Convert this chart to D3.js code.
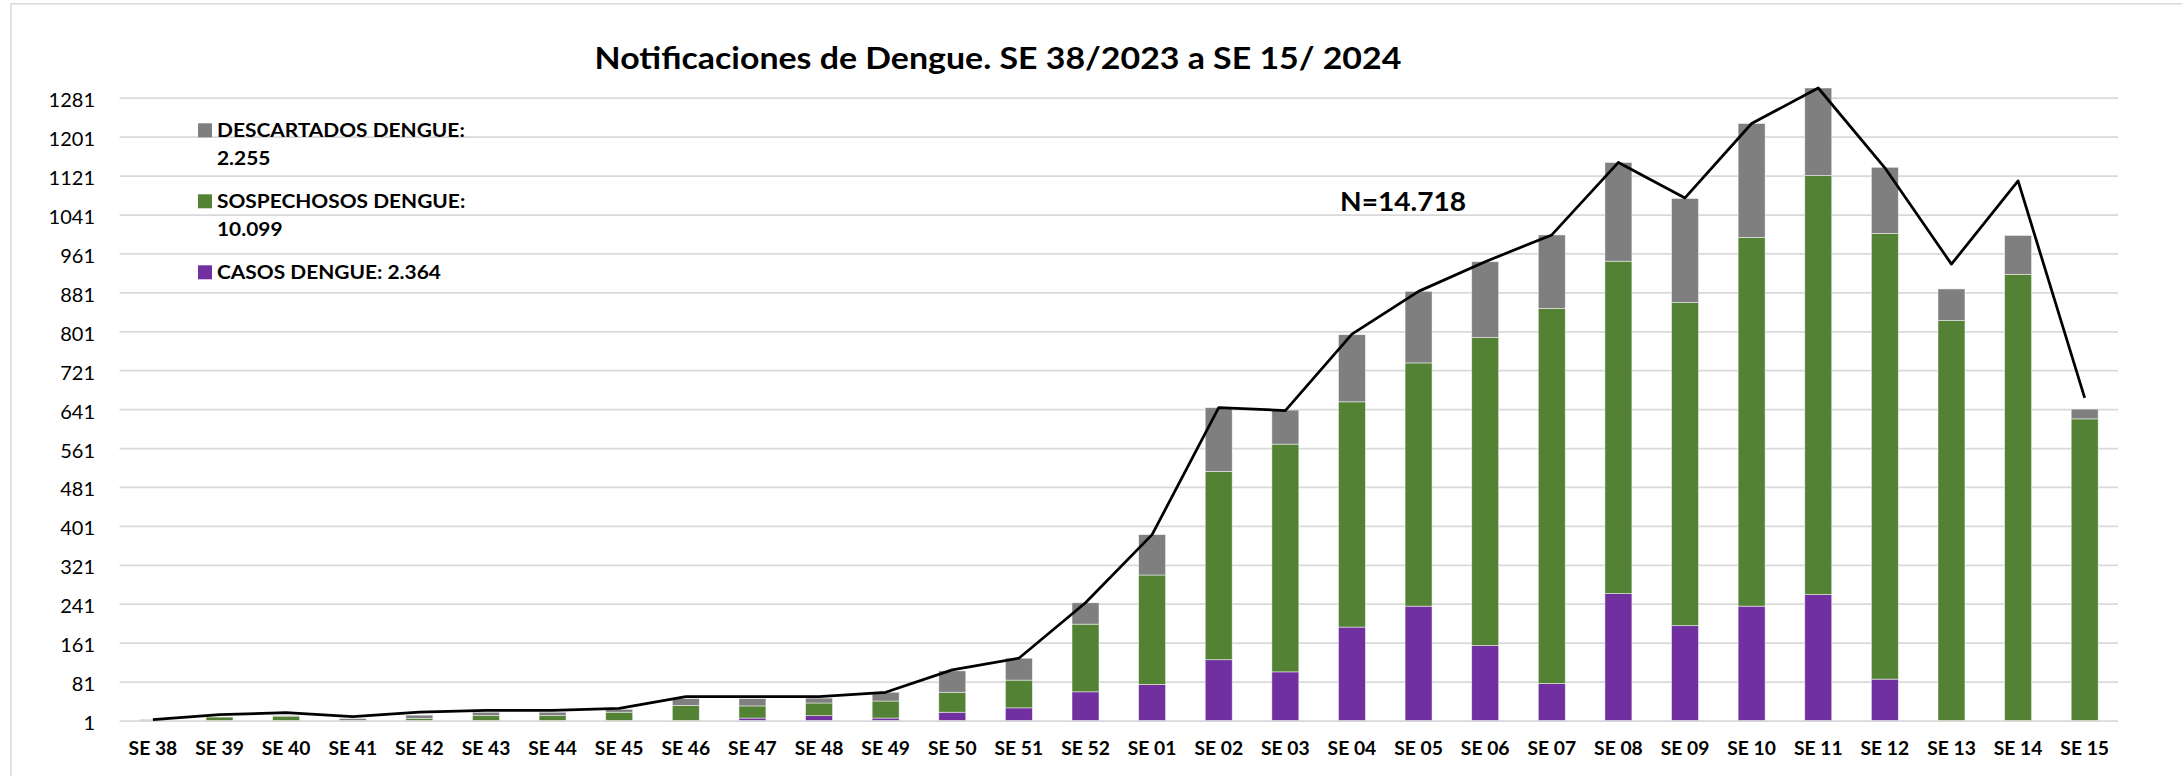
<!DOCTYPE html>
<html>
<head>
<meta charset="utf-8">
<script src="https://cdn.jsdelivr.net/npm/d3@7"></script>
<style>
  body { margin: 0; background: #fff; }
  svg { display: block; font-family: Lato, "Liberation Sans", sans-serif; }
</style>
</head>
<body>
<div id="chart"></div>
<script>
const weeks = ["SE 38","SE 39","SE 40","SE 41","SE 42","SE 43","SE 44","SE 45","SE 46","SE 47",
  "SE 48","SE 49","SE 50","SE 51","SE 52","SE 01","SE 02","SE 03","SE 04","SE 05",
  "SE 06","SE 07","SE 08","SE 09","SE 10","SE 11","SE 12","SE 13","SE 14","SE 15"];
const casos = [0,0,0,0,0,0,0,0,0,6, 11,6,18,27,60,75,126,101,193,236, 155,77,262,196,236,260,86,0,0,0];
const sospechosos = [0,8,10,0,5,11,11,18,32,25, 26,35,41,57,139,225,387,468,463,500, 633,771,683,664,758,861,916,823,918,621];
const descartados = [3,0,1,5,7,7,7,6,14,15, 10,18,44,45,44,83,131,70,138,147, 156,151,203,214,234,180,136,65,80,20];
const totalNotif = [3,13,17,9,18,22,22,26,50,50, 50,59,105,129,243,383,644,638,795,883, 944,999,1148,1075,1228,1301,1137,939,1110,664];
const yTicks = d3.range(1, 1282, 80);
const legendItems = [
  {key: "descartados", lines: ["DESCARTADOS DENGUE:", "2.255"]},
  {key: "sospechosos", lines: ["SOSPECHOSOS DENGUE:", "10.099"]},
  {key: "casos", lines: ["CASOS DENGUE: 2.364"]}
];

const width = 2182, height = 776;
const margin = {top: 88, right: 64, bottom: 55.5, left: 119.6};
const colors = {casos: "#7030a0", sospechosos: "#548235", descartados: "#7f7f7f"};

// the original text is a bit wider than Lato, stretch it horizontally
function stretch(sel, k) {
  sel.each(function() {
    const w = this.getComputedTextLength();
    d3.select(this).attr("textLength", w * k).attr("lengthAdjust", "spacingAndGlyphs");
  });
}

const rows = weeks.map((w, i) => ({week: w, casos: casos[i], sospechosos: sospechosos[i], descartados: descartados[i]}));
const series = d3.stack().keys(["casos", "sospechosos", "descartados"])(rows);

const svg = d3.select("#chart").append("svg")
  .attr("width", width)
  .attr("height", height);

// chart frame (only top and left visible)
svg.append("path")
  .attr("d", `M11,${height} L11,3.7 L${width},3.7`)
  .attr("fill", "none")
  .attr("stroke", "#d9d9d9")
  .attr("stroke-width", 1.5);

const x = d3.scaleBand()
  .domain(weeks)
  .range([margin.left, width - margin.right])
  .paddingInner(0.595)
  .paddingOuter(0.2975);

const y = d3.scaleLinear()
  .domain([1, 1301])
  .range([height - margin.bottom, margin.top])
  .clamp(true);

const yAxis = d3.axisLeft(y)
  .tickValues(yTicks)
  .tickSize(-(width - margin.right - margin.left))
  .tickPadding(24)
  .tickFormat(d3.format("d"));

svg.append("g")
  .attr("transform", `translate(${margin.left},0)`)
  .call(yAxis)
  .call(g => g.select(".domain").remove())
  .call(g => g.selectAll(".tick line").attr("stroke", "#d9d9d9").attr("stroke-width", 1.75))
  .call(g => g.selectAll(".tick text")
    .attr("font-size", 20)
    .attr("fill", "#000")
    .attr("x", -24.6)
    .attr("dy", "0.45em")
    .attr("font-family", "Lato, 'Liberation Sans', sans-serif"));

const xAxis = d3.axisBottom(x).tickSize(0).tickPadding(0);

svg.append("g")
  .attr("transform", `translate(0,${height - margin.bottom})`)
  .call(xAxis)
  .call(g => g.select(".domain").remove())
  .call(g => g.selectAll(".tick text")
    .attr("y", 34.5)
    .attr("dy", 0)
    .attr("font-size", 18)
    .attr("font-weight", "bold")
    .attr("fill", "#000")
    .attr("font-family", "Lato, 'Liberation Sans', sans-serif")
    .call(stretch, 1.07));

svg.append("g")
  .selectAll("g")
  .data(series)
  .join("g")
    .attr("fill", d => colors[d.key])
  .selectAll("rect")
  .data(d => d)
  .join("rect")
    .attr("x", d => x(d.data.week))
    .attr("width", x.bandwidth())
    .attr("y", d => y(d[1]))
    .attr("height", d => Math.max(0, y(d[0]) - y(d[1])))
    .attr("stroke", "#ffffff")
    .attr("stroke-opacity", 0.6)
    .attr("stroke-width", 0.8);

const line = d3.line()
  .x((d, i) => x(weeks[i]) + x.bandwidth() / 2)
  .y(d => y(d));

svg.append("path")
  .datum(totalNotif)
  .attr("fill", "none")
  .attr("stroke", "#000")
  .attr("stroke-width", 2.75)
  .attr("stroke-linejoin", "round")
  .attr("d", line);

svg.append("text")
  .attr("x", 998)
  .attr("y", 69.3)
  .attr("text-anchor", "middle")
  .attr("font-size", 31)
  .attr("font-weight", "bold")
  .text("Notificaciones de Dengue. SE 38/2023 a SE 15/ 2024")
  .call(stretch, 1.093);

svg.append("text")
  .attr("x", 1340)
  .attr("y", 210.7)
  .attr("font-size", 27)
  .attr("font-weight", "bold")
  .text("N=14.718")
  .call(stretch, 1.04);

// legend
const legendTop = [123.3, 194.3, 265.3];
const legend = svg.append("g");
legendItems.forEach((item, i) => {
  const g = legend.append("g").attr("transform", `translate(198,${legendTop[i]})`);
  g.append("rect")
    .attr("width", 14)
    .attr("height", 14)
    .attr("fill", colors[item.key]);
  item.lines.forEach((t, j) => {
    g.append("text")
      .attr("x", 19)
      .attr("y", 14 + j * 28)
      .attr("font-size", 19)
      .attr("font-weight", "bold")
      .text(t)
      .call(stretch, 1.1);
  });
});
</script>
</body>
</html>
